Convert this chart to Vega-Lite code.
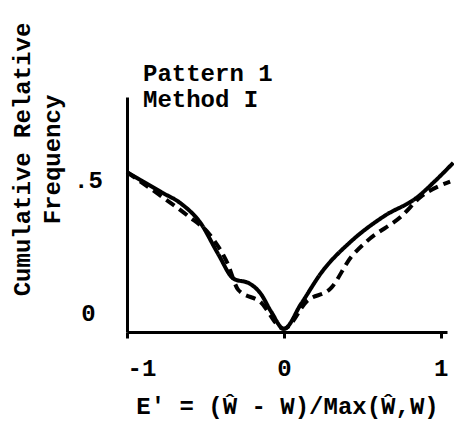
{
  "$schema": "https://vega.github.io/schema/vega-lite/v6.json",
  "autosize": "none",
  "width": 320,
  "height": 235,
  "padding": {"left": 127, "top": 97, "right": 7, "bottom": 89},
  "background": "white",
  "config": {
    "view": {"stroke": null},
    "font": "Liberation Mono"
  },
  "title": {
    "text": ["Pattern 1", "Method I"],
    "anchor": "start",
    "frame": "group",
    "dx": 16,
    "dy": 77,
    "offset": -13,
    "font": "Liberation Mono",
    "fontSize": 24,
    "fontWeight": "bold",
    "lineHeight": 26,
    "color": "black"
  },
  "data": {
    "values": [
      {"series": "solid", "x": -1.0, "y": 0.51},
      {"series": "solid", "x": -0.78, "y": 0.446},
      {"series": "solid", "x": -0.656, "y": 0.41},
      {"series": "solid", "x": -0.53, "y": 0.347},
      {"series": "solid", "x": -0.42, "y": 0.25},
      {"series": "solid", "x": -0.32, "y": 0.17},
      {"series": "solid", "x": -0.22, "y": 0.155},
      {"series": "solid", "x": -0.15, "y": 0.124},
      {"series": "solid", "x": -0.08, "y": 0.064},
      {"series": "solid", "x": 0.0, "y": 0.01},
      {"series": "solid", "x": 0.11, "y": 0.09},
      {"series": "solid", "x": 0.24, "y": 0.19},
      {"series": "solid", "x": 0.43, "y": 0.29},
      {"series": "solid", "x": 0.64, "y": 0.37},
      {"series": "solid", "x": 0.85, "y": 0.43},
      {"series": "solid", "x": 0.96, "y": 0.48},
      {"series": "solid", "x": 1.08, "y": 0.54},
      {"series": "dashed", "x": -1.0, "y": 0.51},
      {"series": "dashed", "x": -0.8, "y": 0.44},
      {"series": "dashed", "x": -0.61, "y": 0.37},
      {"series": "dashed", "x": -0.48, "y": 0.315},
      {"series": "dashed", "x": -0.36, "y": 0.22},
      {"series": "dashed", "x": -0.29, "y": 0.134},
      {"series": "dashed", "x": -0.15, "y": 0.096},
      {"series": "dashed", "x": 0.0, "y": 0.01},
      {"series": "dashed", "x": 0.15, "y": 0.1},
      {"series": "dashed", "x": 0.3, "y": 0.14},
      {"series": "dashed", "x": 0.43, "y": 0.24},
      {"series": "dashed", "x": 0.53, "y": 0.29},
      {"series": "dashed", "x": 0.75, "y": 0.37},
      {"series": "dashed", "x": 0.87, "y": 0.43},
      {"series": "dashed", "x": 1.06, "y": 0.48}
    ]
  },
  "mark": {"type": "line", "interpolate": "monotone", "strokeWidth": 4, "clip": false, "color": "black"},
  "encoding": {
    "x": {
      "field": "x", "type": "quantitative",
      "scale": {"domain": [-1.0, 1.04], "nice": false, "zero": false},
      "axis": {
        "values": [-1, 0, 1],
        "grid": false,
        "domainColor": "black", "domainWidth": 3,
        "tickColor": "black", "tickWidth": 3, "tickSize": 6,
        "labelFont": "Liberation Mono", "labelFontSize": 24, "labelFontWeight": "bold", "labelColor": "black",
        "labelPadding": 18,
        "labelAlign": {"condition": {"test": "datum.value == -1", "value": "left"}, "value": "center"},
        "labelExpr": "datum.value == -1 ? '-1' : (datum.value == 0 ? '0' : '1')",
        "title": "E' = (Ŵ - W)/Max(Ŵ,W)",
        "titleFont": "Liberation Mono", "titleFontSize": 24, "titleFontWeight": "bold", "titleColor": "black",
        "titlePadding": 14
      }
    },
    "y": {
      "field": "y", "type": "quantitative",
      "scale": {"domain": [0, 0.75], "nice": false},
      "axis": {
        "values": [0, 0.5],
        "grid": false,
        "domainColor": "black", "domainWidth": 3,
        "ticks": false,
        "labelExpr": "datum.value == 0 ? '0' : '.5'",
        "labelFont": "Liberation Mono", "labelFontSize": 24, "labelFontWeight": "bold", "labelColor": "black",
        "labelAlign": "center",
        "labelPadding": 39,
        "labelOffset": {"condition": {"test": "datum.value == 0", "value": -19}, "value": 5},
        "title": ["Cumulative Relative", "Frequency"],
        "titleFont": "Liberation Mono", "titleFontSize": 24, "titleFontWeight": "bold", "titleColor": "black",
        "titleAngle": -90,
        "titleAlign": "center",
        "titleBaseline": "top",
        "titleLineHeight": 30,
        "titleX": -117,
        "titleY": 62
      }
    },
    "color": {"field": "series", "type": "nominal", "scale": {"domain": ["solid", "dashed"], "range": ["black", "black"]}, "legend": null},
    "strokeDash": {"field": "series", "type": "nominal", "scale": {"domain": ["solid", "dashed"], "range": [[1, 0], [10, 6]]}, "legend": null}
  }
}
